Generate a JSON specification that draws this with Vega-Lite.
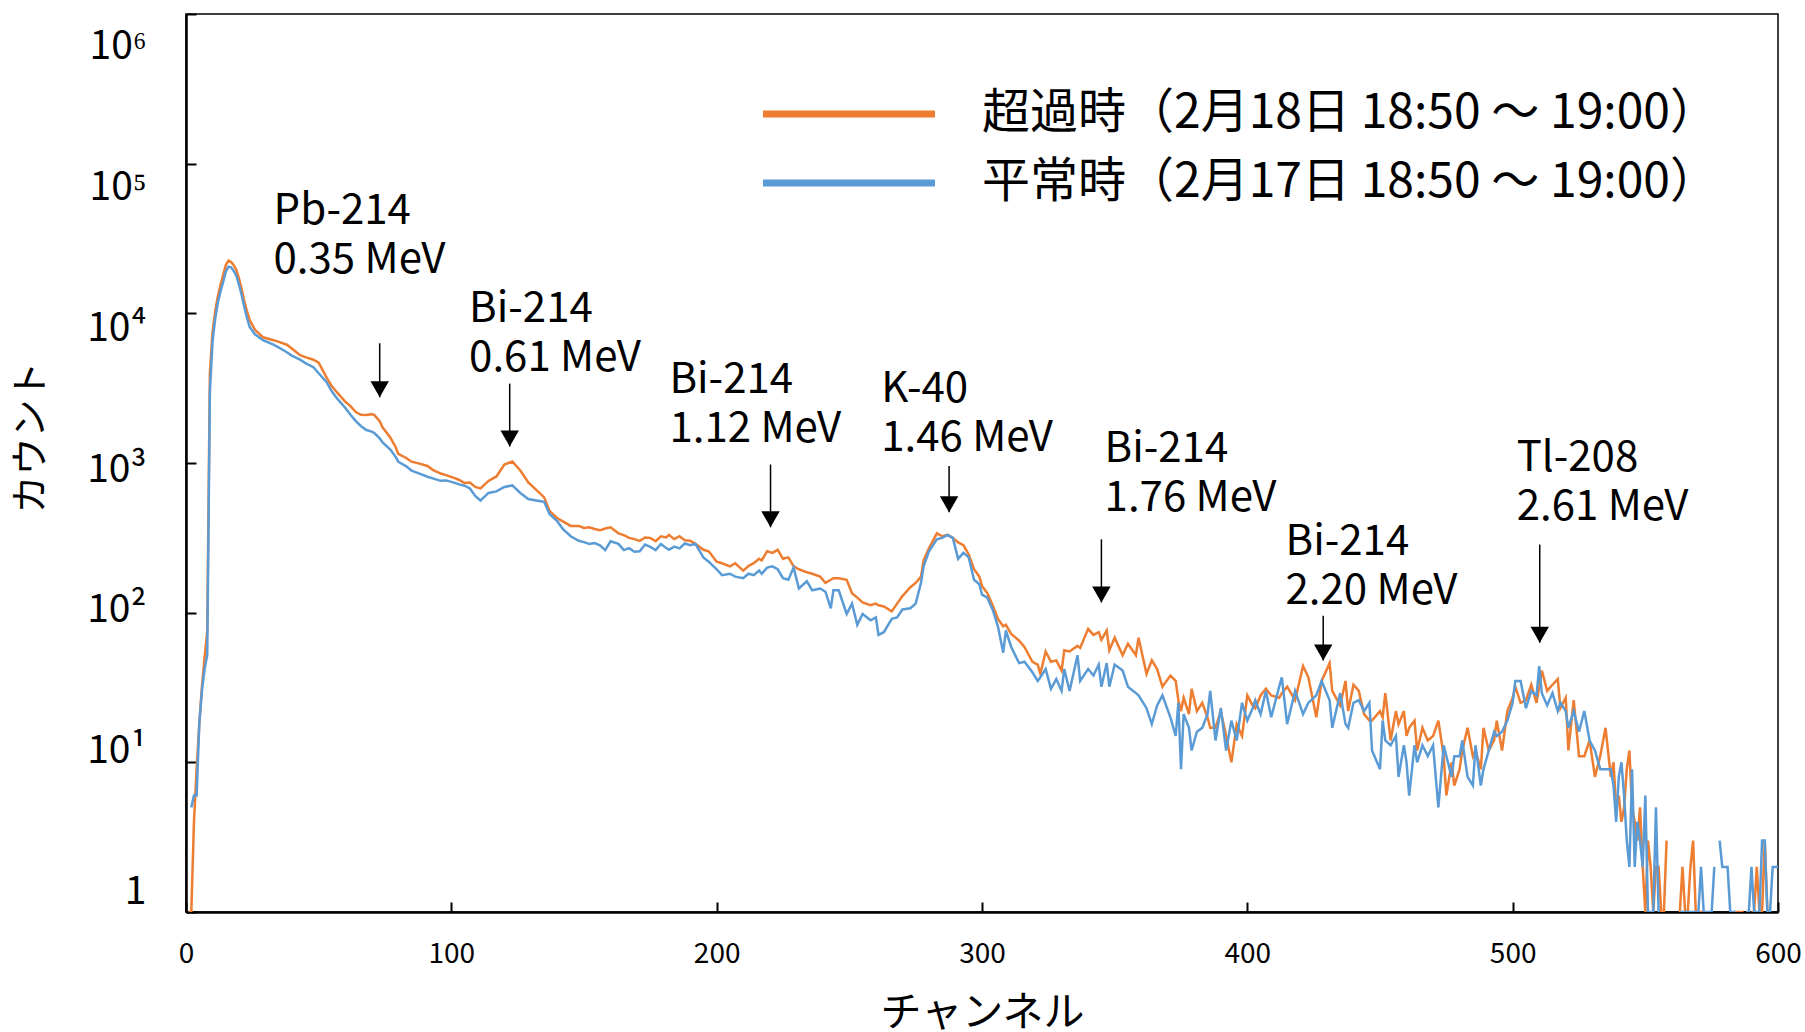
{
  "$schema": "https://vega.github.io/schema/vega-lite/v6.json",
  "width": 1592,
  "height": 898,
  "autosize": {"type": "none"},
  "padding": {"left": 186, "top": 14, "right": 27, "bottom": 120},
  "background": "white",
  "config": {
    "font": "Noto Sans CJK JP",
    "view": {"stroke": "black", "strokeWidth": 1.5},
    "axis": {"grid": false, "domainColor": "black", "domainWidth": 2.5, "tickColor": "black", "tickWidth": 2, "tickSize": -10, "labelColor": "black", "titleColor": "black", "labelFont": "Noto Sans CJK JP", "titleFont": "Noto Sans CJK JP", "titleFontWeight": "normal"}
  },
  "datasets": {
    "spec": [
      {"c":1,"o":1,"b":null},{"c":2,"o":1,"b":5},{"c":3,"o":4,"b":6},{"c":4,"o":9,"b":6},{"c":5,"o":18,"b":18},{"c":6,"o":32,"b":30},{"c":7,"o":50,"b":42},{"c":8,"o":75,"b":52},{"c":9,"o":4000,"b":3000},{"c":10,"o":7500,"b":6500},
      {"c":11,"o":10300,"b":9200},{"c":12,"o":13000,"b":11800},{"c":13,"o":15500,"b":14000},{"c":14,"o":18000,"b":16200},{"c":15,"o":21000,"b":19000},{"c":16,"o":22500,"b":20500},{"c":17,"o":22000,"b":20300},{"c":18,"o":21000,"b":19200},{"c":19,"o":19500,"b":17800},{"c":20,"o":17000,"b":15500},
      {"c":21,"o":14500,"b":13200},{"c":22,"o":12000,"b":11000},{"c":23,"o":10300,"b":9300},{"c":24,"o":9000,"b":8100},{"c":26,"o":7760,"b":7240},{"c":29,"o":6920,"b":6610},{"c":33,"o":6610,"b":6170},{"c":35,"o":6450,"b":5900},{"c":38,"o":6170,"b":5500},{"c":40,"o":5800,"b":5200},
      {"c":43,"o":5250,"b":4900},{"c":45,"o":5100,"b":4650},{"c":48,"o":4900,"b":4370},{"c":50,"o":4680,"b":3980},{"c":53,"o":3720,"b":3470},{"c":55,"o":3250,"b":3000},{"c":57,"o":2950,"b":2690},{"c":60,"o":2570,"b":2340},{"c":62,"o":2400,"b":2100},{"c":64,"o":2190,"b":1905},
      {"c":66,"o":2100,"b":1760},{"c":68,"o":2090,"b":1660},{"c":70,"o":2120,"b":1620},{"c":71,"o":2090,"b":1585},{"c":73,"o":1900,"b":1460},{"c":74,"o":1740,"b":1380},{"c":77,"o":1480,"b":1230},{"c":79,"o":1280,"b":1100},{"c":80,"o":1150,"b":1020},{"c":83,"o":1080,"b":950},
      {"c":85,"o":1020,"b":890},{"c":88,"o":990,"b":850},{"c":91,"o":955,"b":810},{"c":93,"o":900,"b":790},{"c":96,"o":850,"b":760},{"c":98,"o":830,"b":765},{"c":101,"o":795,"b":740},{"c":103,"o":770,"b":720},{"c":105,"o":735,"b":705},{"c":107,"o":741,"b":676},
      {"c":109,"o":692,"b":603},{"c":111,"o":676,"b":562},{"c":114,"o":759,"b":631},{"c":117,"o":813,"b":646},{"c":120,"o":977,"b":692},{"c":123,"o":1023,"b":708},{"c":126,"o":891,"b":631},{"c":129,"o":741,"b":575},{"c":132,"o":661,"b":562},{"c":135,"o":589,"b":550},
      {"c":137,"o":479,"b":457},{"c":140,"o":427,"b":407},{"c":142,"o":407,"b":363},{"c":145,"o":380,"b":324},{"c":148,"o":380,"b":302},{"c":150,"o":368,"b":296},{"c":152,"o":372,"b":288},{"c":154,"o":362,"b":292},{"c":156,"o":355,"b":282},{"c":158,"o":365,"b":262},
      {"c":160,"o":372,"b":300},{"c":163,"o":339,"b":288},{"c":165,"o":330,"b":262},{"c":167,"o":316,"b":270},{"c":169,"o":310,"b":255},{"c":171,"o":302,"b":257},{"c":173,"o":318,"b":285},{"c":175,"o":316,"b":275},{"c":177,"o":300,"b":262},{"c":179,"o":324,"b":288},
      {"c":181,"o":318,"b":270},{"c":182,"o":331,"b":263},{"c":184,"o":310,"b":276},{"c":186,"o":324,"b":269},{"c":188,"o":305,"b":290},{"c":190,"o":302,"b":282},{"c":192,"o":288,"b":288},{"c":195,"o":263,"b":234},{"c":197,"o":257,"b":219},{"c":200,"o":219,"b":195},
      {"c":202,"o":214,"b":178},{"c":205,"o":204,"b":182},{"c":207,"o":214,"b":174},{"c":210,"o":191,"b":170},{"c":212,"o":205,"b":182},{"c":214,"o":214,"b":178},{"c":216,"o":229,"b":191},{"c":217,"o":224,"b":182},{"c":219,"o":257,"b":200},{"c":221,"o":251,"b":204},
      {"c":223,"o":263,"b":195},{"c":225,"o":229,"b":170},{"c":227,"o":234,"b":166},{"c":229,"o":204,"b":200},{"c":231,"o":195,"b":145},{"c":234,"o":186,"b":162},{"c":236,"o":182,"b":141},{"c":239,"o":174,"b":145},{"c":241,"o":158,"b":138},{"c":243,"o":166,"b":107},
      {"c":244,"o":170,"b":141},{"c":246,"o":170,"b":141},{"c":249,"o":166,"b":98},{"c":251,"o":135,"b":115},{"c":253,"o":126,"b":83},{"c":255,"o":117,"b":98},{"c":258,"o":112,"b":89},{"c":260,"o":115,"b":93},{"c":261,"o":112,"b":71},{"c":263,"o":110,"b":74},
      {"c":266,"o":102,"b":91},{"c":268,"o":115,"b":93},{"c":270,"o":129,"b":105},{"c":273,"o":148,"b":107},{"c":275,"o":158,"b":115},{"c":277,"o":174,"b":158},{"c":278,"o":224,"b":204},{"c":280,"o":269,"b":257},{"c":283,"o":339,"b":309},{"c":285,"o":324,"b":316},
      {"c":287,"o":331,"b":331},{"c":289,"o":316,"b":316},{"c":291,"o":295,"b":229},{"c":293,"o":282,"b":251},{"c":295,"o":245,"b":234},{"c":297,"o":195,"b":166},{"c":299,"o":174,"b":155},{"c":300,"o":151,"b":132},{"c":302,"o":135,"b":126},{"c":304,"o":112,"b":105},
      {"c":306,"o":91,"b":81},{"c":308,"o":81,"b":54},{"c":309,"o":83,"b":76},{"c":311,"o":72,"b":59},{"c":314,"o":65,"b":46},{"c":316,"o":59,"b":47},{"c":319,"o":47,"b":40},{"c":321,"o":45,"b":35},{"c":322,"o":39,"b":37},{"c":324,"o":55,"b":42},
      {"c":326,"o":47,"b":31},{"c":328,"o":48,"b":36},{"c":330,"o":41,"b":30},{"c":331,"o":56,"b":42},{"c":333,"o":55,"b":30},{"c":336,"o":60,"b":52},{"c":337,"o":58,"b":35},{"c":340,"o":78,"b":42},{"c":342,"o":71,"b":38},{"c":344,"o":74,"b":45},
      {"c":345,"o":66,"b":32},{"c":347,"o":76,"b":46},{"c":348,"o":56,"b":32},{"c":350,"o":68,"b":45},{"c":353,"o":52,"b":41},{"c":355,"o":62,"b":32},{"c":358,"o":52,"b":29},{"c":359,"o":68,"b":28},{"c":362,"o":39,"b":23},{"c":364,"o":48,"b":18},
      {"c":366,"o":42,"b":24},{"c":368,"o":32,"b":28},{"c":371,"o":38,"b":20},{"c":373,"o":35,"b":15},{"c":374,"o":26,"b":25},{"c":375,"o":22,"b":9},{"c":376,"o":27,"b":21},{"c":378,"o":21,"b":17},{"c":379,"o":31,"b":12},{"c":381,"o":22,"b":16},
      {"c":383,"o":25,"b":17},{"c":385,"o":20,"b":21},{"c":386,"o":17,"b":30},{"c":388,"o":17,"b":14},{"c":390,"o":22,"b":23},{"c":392,"o":15,"b":12},{"c":394,"o":10,"b":19},{"c":396,"o":18,"b":14},{"c":398,"o":15,"b":25},{"c":400,"o":28,"b":19},
      {"c":402,"o":24,"b":23},{"c":403,"o":23,"b":26},{"c":405,"o":28,"b":21},{"c":407,"o":31,"b":30},{"c":409,"o":28,"b":20},{"c":412,"o":27,"b":32},{"c":413,"o":29,"b":37},{"c":415,"o":32,"b":18},{"c":418,"o":26,"b":30},{"c":421,"o":44,"b":21},
      {"c":423,"o":37,"b":25},{"c":426,"o":20,"b":28},{"c":428,"o":35,"b":35},{"c":431,"o":46,"b":26},{"c":432,"o":30,"b":17},{"c":435,"o":24,"b":29},{"c":437,"o":35,"b":18},{"c":438,"o":22,"b":17},{"c":440,"o":33,"b":25},{"c":442,"o":30,"b":26},
      {"c":444,"o":21,"b":22},{"c":446,"o":19,"b":25},{"c":447,"o":19,"b":12},{"c":450,"o":22,"b":9},{"c":451,"o":20,"b":19},{"c":452,"o":29,"b":14},{"c":454,"o":14,"b":13},{"c":456,"o":22,"b":15},{"c":457,"o":18,"b":8},{"c":459,"o":22,"b":13},
      {"c":460,"o":15,"b":10},{"c":461,"o":17,"b":6},{"c":463,"o":19,"b":13},{"c":464,"o":12,"b":10},{"c":466,"o":17,"b":13},{"c":468,"o":14,"b":11},{"c":470,"o":15,"b":13},{"c":472,"o":19,"b":5},{"c":474,"o":11,"b":13},{"c":475,"o":6,"b":11},
      {"c":477,"o":10,"b":8},{"c":478,"o":7,"b":11},{"c":480,"o":9,"b":11},{"c":481,"o":12,"b":14},{"c":483,"o":17,"b":8},{"c":485,"o":11,"b":7},{"c":486,"o":12,"b":13},{"c":488,"o":9,"b":7},{"c":489,"o":17,"b":9},{"c":491,"o":12,"b":12},
      {"c":493,"o":14,"b":16},{"c":494,"o":19,"b":15},{"c":496,"o":12,"b":16},{"c":498,"o":22,"b":19},{"c":500,"o":27,"b":25},{"c":501,"o":32,"b":35},{"c":503,"o":25,"b":35},{"c":505,"o":26,"b":23},{"c":507,"o":33,"b":30},{"c":509,"o":25,"b":28},
      {"c":510,"o":32,"b":44},{"c":511,"o":41,"b":29},{"c":513,"o":30,"b":24},{"c":515,"o":33,"b":29},{"c":517,"o":36,"b":22},{"c":518,"o":23,"b":25},{"c":520,"o":27,"b":22},{"c":521,"o":12,"b":17},{"c":523,"o":26,"b":22},{"c":525,"o":11,"b":16},
      {"c":527,"o":11,"b":22},{"c":529,"o":14,"b":14},{"c":531,"o":8,"b":12},{"c":533,"o":11,"b":9},{"c":535,"o":17,"b":9},{"c":537,"o":8,"b":9},{"c":538,"o":10,"b":7},{"c":539,"o":5,"b":4},{"c":540,"o":6,"b":8},{"c":541,"o":4,"b":10},
      {"c":542,"o":5,"b":6},{"c":543,"o":9,"b":3},{"c":544,"o":12,"b":2},{"c":545,"o":5,"b":9},{"c":546,"o":4,"b":2},{"c":547,"o":3,"b":4},{"c":548,"o":5,"b":3},{"c":549,"o":2,"b":2},{"c":550,"o":1,"b":6},{"c":551,"o":3,"b":1},
      {"c":552,"o":2,"b":1},{"c":553,"o":1,"b":1},{"c":554,"o":2,"b":5},{"c":555,"o":2,"b":1},{"c":556,"o":1,"b":null},{"c":557,"o":1,"b":null},{"c":558,"o":3,"b":null},{"c":560,"o":null,"b":null},{"c":563,"o":1,"b":1},{"c":564,"o":2,"b":1},
      {"c":565,"o":1,"b":1},{"c":566,"o":1,"b":1},{"c":567,"o":2,"b":1},{"c":568,"o":3,"b":1},{"c":569,"o":1,"b":1},{"c":570,"o":1,"b":1},{"c":571,"o":1,"b":2},{"c":572,"o":1,"b":1},{"c":573,"o":null,"b":1},{"c":574,"o":null,"b":1},
      {"c":575,"o":null,"b":1},{"c":576,"o":null,"b":2},{"c":577,"o":null,"b":null},{"c":578,"o":null,"b":3},{"c":579,"o":null,"b":2},{"c":580,"o":null,"b":2},{"c":581,"o":null,"b":2},{"c":582,"o":null,"b":1},{"c":583,"o":1,"b":1},{"c":584,"o":1,"b":1},
      {"c":585,"o":1,"b":null},{"c":586,"o":1,"b":null},{"c":587,"o":1,"b":null},{"c":588,"o":null,"b":1},{"c":589,"o":null,"b":1},{"c":590,"o":1,"b":2},{"c":591,"o":1,"b":1},{"c":592,"o":2,"b":1},{"c":593,"o":1,"b":1},{"c":594,"o":1,"b":3},
      {"c":595,"o":3,"b":3},{"c":596,"o":1,"b":1},{"c":597,"o":null,"b":1},{"c":598,"o":null,"b":2},{"c":599,"o":null,"b":2},{"c":600,"o":null,"b":2}
    ],
    "notes": [
      {"c":33.0,"y":33000,"t":"Pb-214\n0.35 MeV"},
      {"c":106.7,"y":7290,"t":"Bi-214\n0.61 MeV"},
      {"c":182.2,"y":2455,"t":"Bi-214\n1.12 MeV"},
      {"c":262,"y":2130,"t":"K-40\n1.46 MeV"},
      {"c":346.2,"y":857,"t":"Bi-214\n1.76 MeV"},
      {"c":414.4,"y":202,"t":"Bi-214\n2.20 MeV"},
      {"c":501.5,"y":743,"t":"Tl-208\n2.61 MeV"}
    ],
    "arrows": [
      {"c":73,"top":6310,"tip":2750},
      {"c":122,"top":3390,"tip":1290},
      {"c":220.3,"top":977,"tip":372},
      {"c":287.6,"top":955,"tip":468},
      {"c":345,"top":309,"tip":117},
      {"c":428.6,"top":95.5,"tip":47.9},
      {"c":510.2,"top":285,"tip":63}
    ]
  },
  "layer": [
    {
      "data": {"name": "spec"},
      "transform": [{"fold": ["o", "b"], "as": ["s", "v"]}],
      "mark": {"type": "line", "strokeWidth": 2.5, "clip": true},
      "encoding": {
        "x": {"field": "c", "type": "quantitative", "title": "チャンネル",
          "scale": {"domain": [0, 600], "nice": false, "zero": false},
          "axis": {"values": [0,100,200,300,400,500,600], "labelFontSize": 28, "labelPadding": 38, "titleFontSize": 41, "titleX": 796, "titleY": 101, "titleBaseline": "middle", "titleAlign": "center", "labelFlush": false}},
        "y": {"field": "v", "type": "quantitative", "title": "カウント",
          "scale": {"type": "log", "domain": [1, 1000000], "nice": false},
          "axis": {"values": [1,10,100,1000,10000,100000,1000000],
            "labelExpr": "datum.value < 5 ? '1' : datum.value < 50 ? '10¹' : datum.value < 500 ? '10²' : datum.value < 5000 ? '10³' : datum.value < 50000 ? '10⁴' : datum.value < 500000 ? '10⁵' : '10⁶'",
            "labelFontSize": 39, "labelPadding": 50, "labelFlush": false,
            "labelOffset": {"expr": "8.67 * (log(datum.value) / LN10 - 3) + 6"},
            "titleFontSize": 38, "titleX": -155, "titleY": 423, "titleAngle": 270, "titleBaseline": "middle", "titleAlign": "center"}},
        "color": {"field": "s", "type": "nominal",
          "scale": {"domain": ["o", "b"], "range": ["#ED7D31", "#5B9BD5"]},
          "legend": {"orient": "none", "legendX": 639, "legendY": 76, "title": null, "padding": 0,
            "symbolType": "M-6,0H6", "symbolSize": 822, "symbolStrokeWidth": 7,
            "labelFontSize": 48, "labelFont": "Noto Sans CJK JP", "labelColor": "black", "labelOffset": 109, "labelLimit": 1200, "rowPadding": 21,
            "labelExpr": "datum.value == 'o' ? '超過時（2月18日 18:50 ～ 19:00）' : '平常時（2月17日 18:50 ～ 19:00）'"}}
      }
    },
    {
      "data": {"name": "arrows"},
      "mark": {"type": "rule", "color": "black", "strokeWidth": 1.5},
      "encoding": {
        "x": {"field": "c", "type": "quantitative", "title": "チャンネル"},
        "y": {"field": "top", "type": "quantitative", "title": "カウント"},
        "y2": {"field": "tip"}
      }
    },
    {
      "data": {"name": "arrows"},
      "mark": {"type": "point", "shape": "triangle-down", "filled": true, "color": "black", "opacity": 1, "size": 340, "yOffset": -8},
      "encoding": {
        "x": {"field": "c", "type": "quantitative", "title": "チャンネル"},
        "y": {"field": "tip", "type": "quantitative", "title": "カウント"}
      }
    },
    {
      "data": {"name": "notes"},
      "mark": {"type": "text", "align": "left", "baseline": "middle", "fontSize": 42, "lineHeight": 49, "lineBreak": "\n", "dy": -24.5, "font": "Noto Sans CJK JP", "color": "black"},
      "encoding": {
        "x": {"field": "c", "type": "quantitative", "title": "チャンネル"},
        "y": {"field": "y", "type": "quantitative", "title": "カウント"},
        "text": {"field": "t", "type": "nominal"}
      }
    }
  ]
}
